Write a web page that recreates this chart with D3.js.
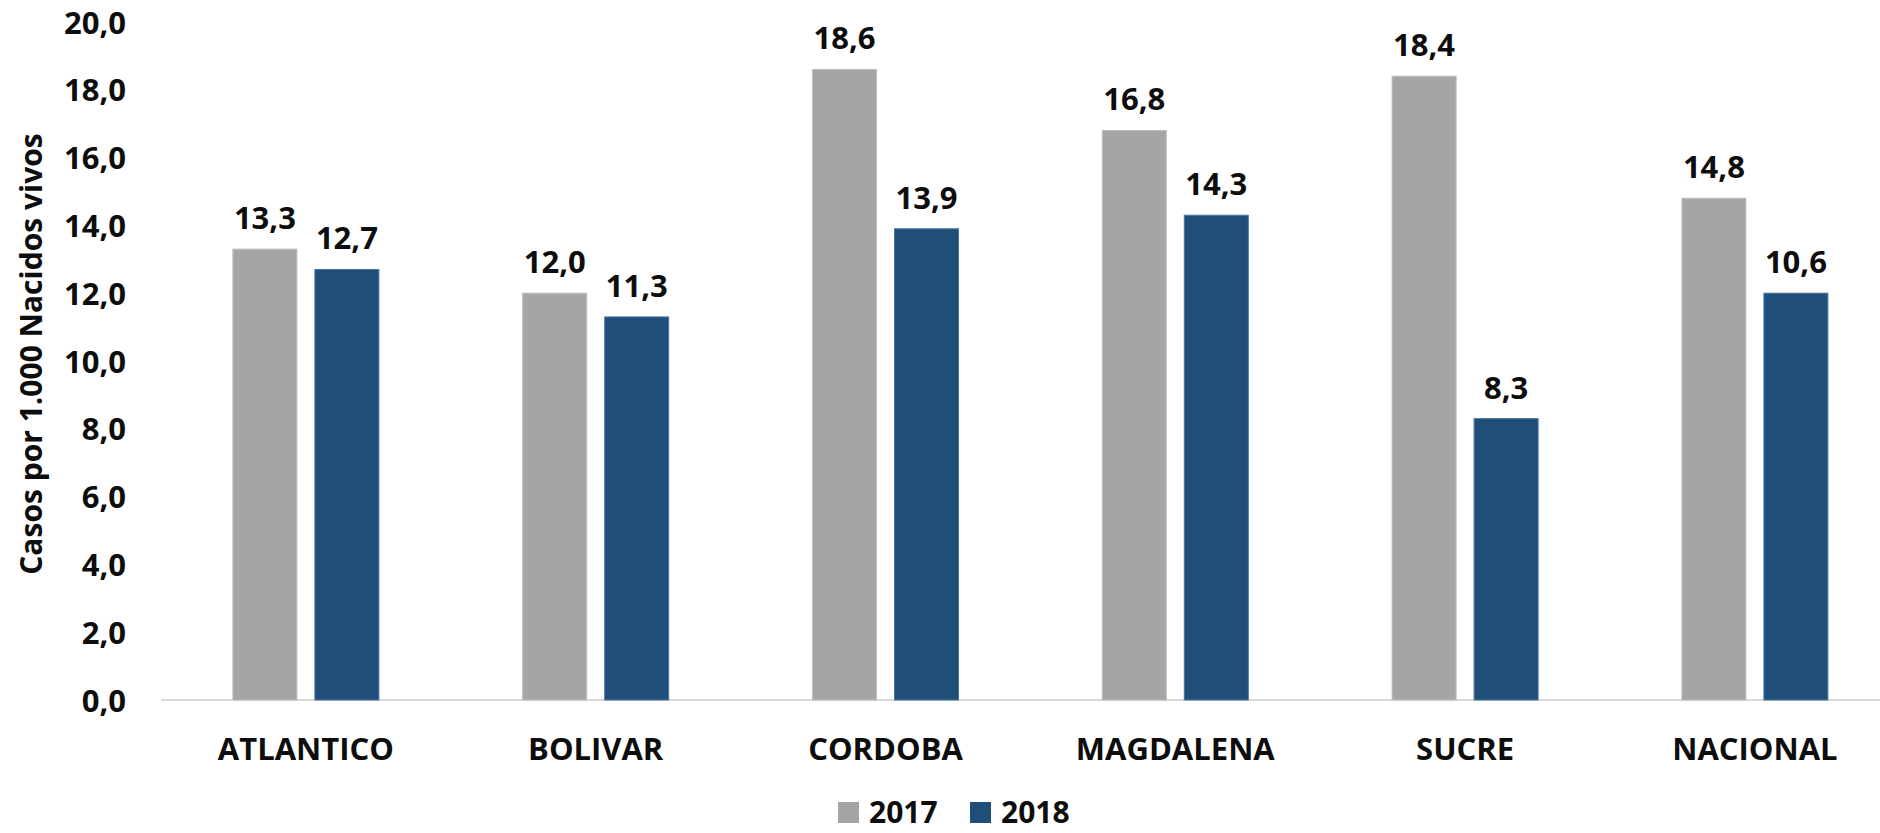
<!DOCTYPE html>
<html><head><meta charset="utf-8">
<script src="https://d3js.org/d3.v7.min.js"></script>
<style>body{margin:0;background:#fff}svg{display:block}</style>
</head><body>
<script>
const categories = ["ATLANTICO","BOLIVAR","CORDOBA","MAGDALENA","SUCRE","NACIONAL"];
const series = ["2017","2018"];
const values2017 = [13.3, 12.0, 18.6, 16.8, 18.4, 14.8];
const values2018 = [12.7, 11.3, 13.9, 14.3, 8.3, 12.0];
const labels2017 = ["13,3","12,0","18,6","16,8","18,4","14,8"];
const labels2018 = ["12,7","11,3","13,9","14,3","8,3","10,6"];
const yTicks = [0,2,4,6,8,10,12,14,16,18,20];
const colors = ["#A5A5A5","#1F4E79"];
const yTitle = "Casos por 1.000 Nacidos vivos";

const W = 1880, H = 833;
const font = "'Open Sans', 'Noto Sans', sans-serif";
const svg = d3.select("body").append("svg").attr("width", W).attr("height", H)
  .style("font-family", font).style("font-weight", "bold");

const x0 = d3.scaleBand().domain(categories).range([161, 161 + 6*289.8]).paddingInner(0).paddingOuter(0);
const barW = 64, gap = 18;
const y = d3.scaleLinear().domain([0, 20]).range([700, 22]);

// axis line
svg.append("line").attr("x1", 161).attr("x2", W).attr("y1", y(0)).attr("y2", y(0))
  .attr("stroke", "#D9D9D9").attr("stroke-width", 2);

// y axis ticks
const yAxis = d3.axisLeft(y).tickValues(yTicks).tickSize(0).tickPadding(0)
  .tickFormat(d => d3.format(".1f")(d).replace(".", ","));
const gy = svg.append("g").attr("transform", "translate(126,0)").call(yAxis);
gy.select(".domain").remove();
gy.selectAll("text").attr("font-size", 31).attr("font-family", font).attr("font-weight", "bold")
  .attr("fill", "#0D0D0D").attr("dy", "0.36em");

// x axis labels
const xAxis = d3.axisBottom(x0).tickSize(0).tickPadding(0);
const gx = svg.append("g").attr("transform", "translate(0,760)").call(xAxis);
gx.select(".domain").remove();
gx.selectAll("text").attr("font-size", 31).attr("font-family", font).attr("font-weight", "bold")
  .attr("fill", "#0D0D0D").attr("dy", 0);

const data = [values2017, values2018];
const labels = [labels2017, labels2018];
series.forEach((s, si) => {
  const off = si === 0 ? -(barW + gap/2) : gap/2;
  const g = svg.append("g");
  g.selectAll("rect").data(categories).join("rect")
    .attr("x", c => x0(c) + x0.bandwidth()/2 + off)
    .attr("width", barW)
    .attr("y", (c, i) => y(data[si][i]))
    .attr("height", (c, i) => y(0) - y(data[si][i]))
    .attr("fill", colors[si])
    .attr("stroke", si === 0 ? "#BDBDBD" : "#4A73A0").attr("stroke-width", 1);
  g.selectAll("text").data(categories).join("text")
    .attr("x", c => x0(c) + x0.bandwidth()/2 + off + barW/2)
    .attr("y", (c, i) => y(data[si][i]) - 20)
    .attr("text-anchor", "middle").attr("font-size", 31).attr("fill", "#0D0D0D")
    .text((c, i) => labels[si][i]);
});

// y title
svg.append("text").attr("transform", "translate(42,354) rotate(-90)")
  .attr("text-anchor", "middle").attr("font-size", 30).attr("fill", "#0D0D0D").text(yTitle);

// legend
const legX = [838, 970];
series.forEach((s, si) => {
  svg.append("rect").attr("x", legX[si]).attr("y", 802).attr("width", 21).attr("height", 21).attr("fill", colors[si]);
  svg.append("text").attr("x", legX[si] + 31).attr("y", 823).attr("font-size", 30).attr("fill", "#0D0D0D").text(s);
});
</script>
</body></html>
